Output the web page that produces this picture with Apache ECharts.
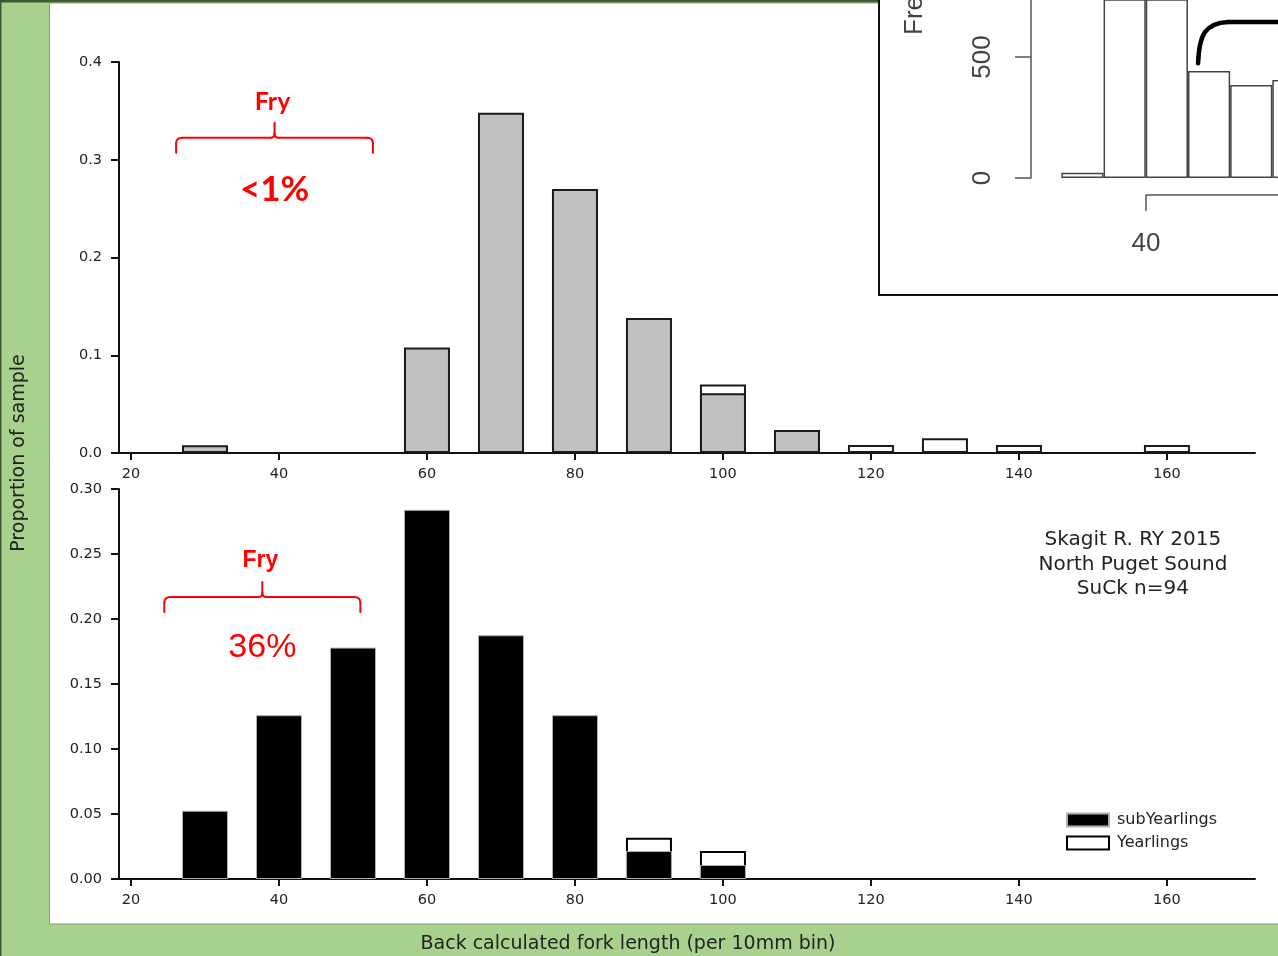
<!DOCTYPE html>
<html>
<head>
<meta charset="utf-8">
<script src="https://cdn.jsdelivr.net/npm/echarts@6/dist/echarts.min.js"></script>
<style>
html,body{margin:0;padding:0;background:#a9d18e;}
#c{width:1278px;height:956px;}
</style>
</head>
<body>
<div id="c"></div>
<script>
// ---------- data ----------
const binCenters = [30, 40, 50, 60, 70, 80, 90, 100, 110, 120, 130, 140, 150, 160];
const topSubYearlings = [0.008, null, null, 0.108, 0.348, 0.270, 0.138, 0.061, 0.0235, null, null, null, null, null];
const topYearlings    = [null, null, null, null, null, null, null, 0.0092, null, 0.0082, 0.0152, 0.0082, null, 0.0082];
const botSubYearlings = [0.0525, 0.126, 0.178, 0.284, 0.1875, 0.126, 0.0215, 0.0108, null, null, null, null, null, null];
const botYearlings    = [null, null, null, null, null, null, 0.0102, 0.0107, null, null, null, null, null, null];
const xTickValues = [20, 40, 60, 80, 100, 120, 140, 160];
const topYTicks = [0, 0.1, 0.2, 0.3, 0.4];
const botYTicks = [0, 0.05, 0.10, 0.15, 0.20, 0.25, 0.30];
const insetBinCenters = [32.5, 37.5, 42.5, 47.5, 52.5, 57.5];
const insetFrequency = [22, 1450, 1500, 442, 384, 405];
const insetYTicks = [0, 500];
const insetXTicks = [40];
const statsLines = ['Skagit R. RY 2015', 'North Puget Sound', 'SuCk n=94'];
const statsAnchor = [155.4, 0.2607];
const fryTop = { range: [26.1, 52.7], level: 0.3225, pct: '<1%' };
const fryBot = { range: [24.5, 51.0], level: 0.217, pct: '36%' };
const insetBracket = { x0: 46.2, x1: 62, yLow: 474, yHigh: 645 };

// ---------- layout constants ----------
const X_MIN = 18.38, X_MAX = 171.9;
const INSET_X_MIN = 26.4, INSET_X_MAX = 55.67;

const chart = echarts.init(document.getElementById('c'), null, { renderer: 'canvas' });

const axisColor = '#111';
const tickFont = { fontFamily: 'DejaVu Sans', fontSize: 14.5, color: '#222' };

function xAxisMain(gi) {
  return {
    type: 'value', gridIndex: gi, min: X_MIN, max: X_MAX,
    axisLine: { show: true, onZero: false, lineStyle: { color: axisColor, width: 2 } },
    axisTick: { show: true, length: 7, customValues: xTickValues, lineStyle: { color: axisColor, width: 2 } },
    axisLabel: Object.assign({ customValues: xTickValues, margin: 14 }, tickFont),
    splitLine: { show: false }
  };
}
function yAxisMain(gi, max, interval, digits, ticks) {
  return {
    type: 'value', gridIndex: gi, min: 0, max: max, interval: interval,
    axisLine: { show: true, lineStyle: { color: axisColor, width: 2 } },
    axisTick: { show: true, length: 8, customValues: ticks, lineStyle: { color: axisColor, width: 2 } },
    axisLabel: Object.assign({ customValues: ticks, margin: 17, formatter: v => v.toFixed(digits) }, tickFont),
    splitLine: { show: false }
  };
}
function pairs(arr) { return binCenters.map((x, i) => [x, arr[i]]); }
// yearlings are drawn on top of the subyearlings: bar reaches sub + yearling total
function stackedPairs(base, add) {
  return binCenters.map((x, i) => [x, add[i] == null ? null : (base[i] || 0) + add[i]]);
}

const option = {
  animation: false,
  backgroundColor: '#a9d18e',
  grid: [
    { left: 119, top: 62, width: 1136, height: 391, outerBoundsMode: 'none', containLabel: false },
    { left: 119, top: 489, width: 1136, height: 390, outerBoundsMode: 'none', containLabel: false },
    { left: 1031, top: 0, width: 247, height: 178, outerBoundsMode: 'none', containLabel: false },
    { left: 1146, top: 194, width: 132, height: 1, outerBoundsMode: 'none', containLabel: false }
  ],
  xAxis: [
    xAxisMain(0),
    xAxisMain(1),
    { type: 'value', gridIndex: 2, min: INSET_X_MIN, max: INSET_X_MAX, show: false },
    {
      type: 'value', gridIndex: 3, min: 40, max: 40 + 132 / 8.44,
      axisLine: { show: true, onZero: false, lineStyle: { color: '#555', width: 1.5 } },
      axisTick: { show: true, length: 16, customValues: insetXTicks, lineStyle: { color: '#555', width: 1.5 } },
      axisLabel: { customValues: insetXTicks, margin: 36, fontFamily: 'Liberation Sans', fontSize: 26, color: '#444' },
      splitLine: { show: false }
    }
  ],
  yAxis: [
    yAxisMain(0, 0.4, 0.1, 1, topYTicks),
    yAxisMain(1, 0.30, 0.05, 2, botYTicks),
    {
      type: 'value', gridIndex: 2, min: 0, max: 735.5, interval: 500,
      axisLine: { show: true, lineStyle: { color: '#555', width: 1.5 } },
      axisTick: { show: true, length: 16, customValues: insetYTicks, lineStyle: { color: '#555', width: 1.5 } },
      axisLabel: { customValues: insetYTicks, rotate: 90, margin: 35, fontFamily: 'Liberation Sans', fontSize: 26, color: '#444' },
      splitLine: { show: false }
    },
    { type: 'value', gridIndex: 3, show: false, min: 0, max: 1 }
  ],
  legend: {
    data: ['subYearlings', 'Yearlings'],
    orient: 'vertical', left: 1066, top: 812, padding: 0,
    itemWidth: 42, itemHeight: 13, itemGap: 7,
    icon: 'rect', selectedMode: false,
    textStyle: { fontFamily: 'DejaVu Sans', fontSize: 16, color: '#222', padding: [0, 0, 0, 3] }
  },
  series: [
    {
      name: 'Yearlings (upper)', type: 'bar', xAxisIndex: 0, yAxisIndex: 0, barWidth: 46, barGap: '-100%',
      data: stackedPairs(topSubYearlings, topYearlings),
      itemStyle: { color: '#ffffff', borderColor: '#1a1a1a', borderWidth: 2 }
    },
    {
      name: 'subYearlings (upper)', type: 'bar', xAxisIndex: 0, yAxisIndex: 0, barWidth: 46, barGap: '-100%',
      data: pairs(topSubYearlings),
      itemStyle: { color: '#c0c0c0', borderColor: '#1a1a1a', borderWidth: 2 }
    },
    {
      name: 'Yearlings', type: 'bar', xAxisIndex: 1, yAxisIndex: 1, barWidth: 46, barGap: '-100%',
      data: stackedPairs(botSubYearlings, botYearlings),
      itemStyle: { color: '#ffffff', borderColor: '#000000', borderWidth: 2 }
    },
    {
      name: 'subYearlings', type: 'bar', xAxisIndex: 1, yAxisIndex: 1, barWidth: 46, barGap: '-100%',
      data: pairs(botSubYearlings),
      itemStyle: { color: '#000000', borderColor: '#b0b0b0', borderWidth: 1 }
    },
    {
      name: 'Frequency', type: 'bar', xAxisIndex: 2, yAxisIndex: 2, barWidth: 42.2,
      data: insetBinCenters.map((x, i) => [x, insetFrequency[i]]),
      itemStyle: { color: '#ffffff', borderColor: '#444', borderWidth: 1.5 }
    }
  ]
};
chart.setOption(option);

// ---------- decorations (computed through the axes) ----------
const P = (gi, x, y) => chart.convertToPixel({ xAxisIndex: gi, yAxisIndex: gi }, [x, y]);
const RED = '#ff0000';

function seg(x1, y1, x2, y2, stroke, lw) {
  return { type: 'line', z: 10, shape: { x1, y1, x2, y2 }, style: { stroke, lineWidth: lw, lineCap: 'round' } };
}
function curve(x1, y1, cx, cy, x2, y2, stroke, lw) {
  return { type: 'bezierCurve', z: 10, shape: { x1, y1, x2, y2, cpx1: cx, cpy1: cy },
           style: { stroke, lineWidth: lw, fill: null, lineCap: 'round' } };
}
function brace(list, x1, x2, y, drop, nub) {
  const xc = (x1 + x2) / 2, r = 6;
  list.push(seg(x1, y + drop, x1, y + r, RED, 2));
  list.push(curve(x1, y + r, x1, y, x1 + r, y, RED, 2));
  list.push(seg(x1 + r, y, xc - 4, y, RED, 2));
  list.push(curve(xc - 4, y, xc, y, xc, y - 4, RED, 2));
  list.push(curve(xc + 4, y, xc, y, xc, y - 4, RED, 2));
  list.push(seg(xc, y - 4, xc, y - nub, RED, 2));
  list.push(seg(xc + 4, y, x2 - r, y, RED, 2));
  list.push(curve(x2 - r, y, x2, y, x2, y + r, RED, 2));
  list.push(seg(x2, y + r, x2, y + drop, RED, 2));
}
function txt(x, y, text, font, fill, extra) {
  return Object.assign({
    type: 'text', x: x, y: y, z: 10,
    style: { text: text, font: font, fill: fill, textAlign: 'center', textVerticalAlign: 'middle' }
  }, extra || {});
}

const g = [];
// frame
g.push({ type: 'rect', z: -10, shape: { x: 0, y: 0, width: 1278, height: 956 }, style: { fill: '#a9d18e' } });
g.push({ type: 'rect', z: -9, shape: { x: 0, y: 0, width: 1278, height: 2.5 }, style: { fill: '#3f5a32' } });
g.push({ type: 'rect', z: -9, shape: { x: 0, y: 0, width: 1.5, height: 956 }, style: { fill: '#3f5a32' } });
g.push({ type: 'rect', z: -8, shape: { x: 49.5, y: 3, width: 1240, height: 921 },
         style: { fill: '#ffffff', stroke: '#8a9a82', lineWidth: 1 } });
// inset box
g.push({ type: 'rect', z: -7, shape: { x: 879, y: -3, width: 420, height: 298 },
         style: { fill: '#ffffff', stroke: '#111', lineWidth: 2 } });

// braces + labels
[[0, fryTop, 'bold 25px Lato', 'bold 35px Lato', 36, 52],
 [1, fryBot, 'bold 23px "Liberation Sans"', '34px "Liberation Sans"', 36, 51]].forEach(([gi, f, f1, f2, up, down]) => {
  const a = P(gi, f.range[0], f.level), b = P(gi, f.range[1], f.level);
  brace(g, a[0], b[0], a[1], 15, 15);
  const xc = (a[0] + b[0]) / 2;
  g.push(txt(xc - 2, a[1] - up, 'Fry', f1, RED));
  g.push(txt(xc, a[1] + down, f.pct, f2, RED));
});

// stats text
const sAnchor = P(1, statsAnchor[0], statsAnchor[1]);
statsLines.forEach((s, i) => {
  g.push(txt(sAnchor[0], sAnchor[1] + i * 24.5, s, '20px "DejaVu Sans"', '#222'));
});

// axis titles
g.push(txt(19, 453, 'Proportion of sample', '19px "DejaVu Sans"', '#222', { rotation: Math.PI / 2 }));
g.push(txt(628, 944, 'Back calculated fork length (per 10mm bin)', '19px "DejaVu Sans"', '#222'));

// inset y title (cropped at the top)
g.push({ type: 'text', x: 915, y: 35, z: 10, rotation: Math.PI / 2,
         style: { text: 'Frequency', font: '26px "Liberation Sans"', fill: '#444',
                  textAlign: 'left', textVerticalAlign: 'middle' } });

// inset bracket curve
const q0 = P(2, insetBracket.x0, insetBracket.yLow);
const q1 = P(2, insetBracket.x1, insetBracket.yHigh);
g.push({ type: 'bezierCurve', z: 10,
         shape: { x1: q0[0], y1: q0[1], cpx1: q0[0] + 1, cpy1: q1[1] + 13, cpx2: q0[0] + 7, cpy2: q1[1] + 1,
                  x2: q0[0] + 30, y2: q1[1] },
         style: { stroke: '#000', lineWidth: 4.5, fill: null, lineCap: 'round' } });
g.push(seg(q0[0] + 30, q1[1], q1[0], q1[1], '#000', 4.5));

chart.setOption({ graphic: g });
</script>
</body>
</html>
